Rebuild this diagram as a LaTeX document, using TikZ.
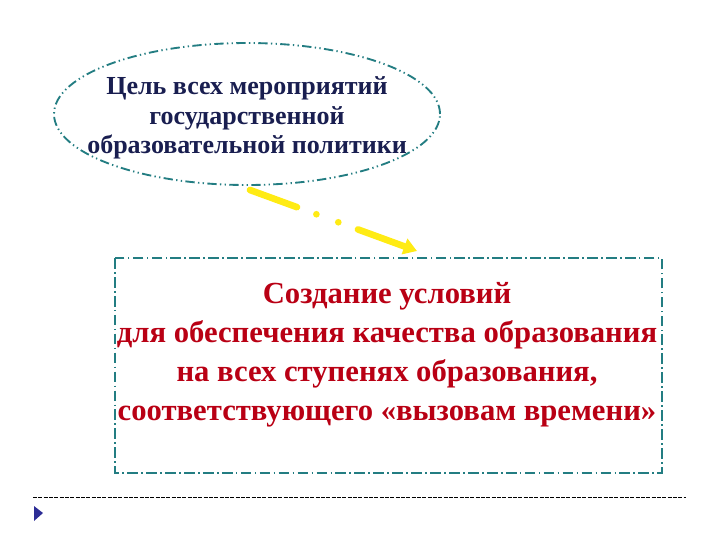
\documentclass[tikz,border=0pt]{standalone}
\usepackage{fontspec}
\setmainfont{Liberation Serif}
\usetikzlibrary{arrows.meta,calc,shapes.geometric}
\definecolor{tealline}{RGB}{35,125,130}
\definecolor{navytext}{RGB}{25,30,80}
\definecolor{redtext}{RGB}{185,0,20}
\definecolor{arrowyellow}{RGB}{255,235,20}
\definecolor{baseline}{RGB}{90,90,130}
\definecolor{tri}{RGB}{45,45,150}
\tikzset{
  goalshape/.style={draw=tealline, line width=1.4pt, ellipse, inner sep=0pt,
    dash pattern=on 7pt off 2.5pt on 1pt off 2.5pt on 1pt off 2.5pt},
  targetshape/.style={draw=tealline, line width=1.3pt,
    dash pattern=on 8pt off 2.5pt on 1.2pt off 2.5pt},
  goaltext/.style={text=navytext, font=\bfseries\fontsize{19.5}{22}\selectfont, align=center},
  targettext/.style={text=redtext, font=\bfseries\fontsize{23}{29.2}\selectfont, align=center},
  yellowarrow/.style={draw=arrowyellow, line width=5pt, line cap=round,
    dash pattern=on 37.5pt off 15.5pt on 0pt off 17.5pt on 0pt off 15.75pt on 200pt,
    -{Triangle[length=10pt,width=12pt,line cap=butt]}},
}
\begin{document}
\begin{tikzpicture}[x=0.75pt,y=-0.75pt]
\useasboundingbox (0,0) rectangle (720,540);
\node[goalshape, minimum width=289.5pt, minimum height=106.5pt] (goal) at (247,114) {};
\node[goaltext] (goaltxt) at (247,118) {Цель всех мероприятий\\государственной\\образовательной политики};
\draw[targetshape] (115,258) rectangle (662,473);
\node[targettext] (targettxt) at (387,355) {Создание условий\\для обеспечения качества образования\\на всех ступенях образования,\\соответствующего «вызовам времени»};
\coordinate (a1) at (250,190);
\coordinate (a2) at (417,251);
\draw[yellowarrow] (a1) -- (a2);
\coordinate (l1) at (33,497);
\coordinate (l2) at (686,497);
\draw[baseline, line width=0.6pt, dash pattern=on 3pt off 1pt] (l1) -- (l2);
\fill[tri] (34,506) -- (43,513) -- (34,521) -- cycle;
\end{tikzpicture}
\end{document}
